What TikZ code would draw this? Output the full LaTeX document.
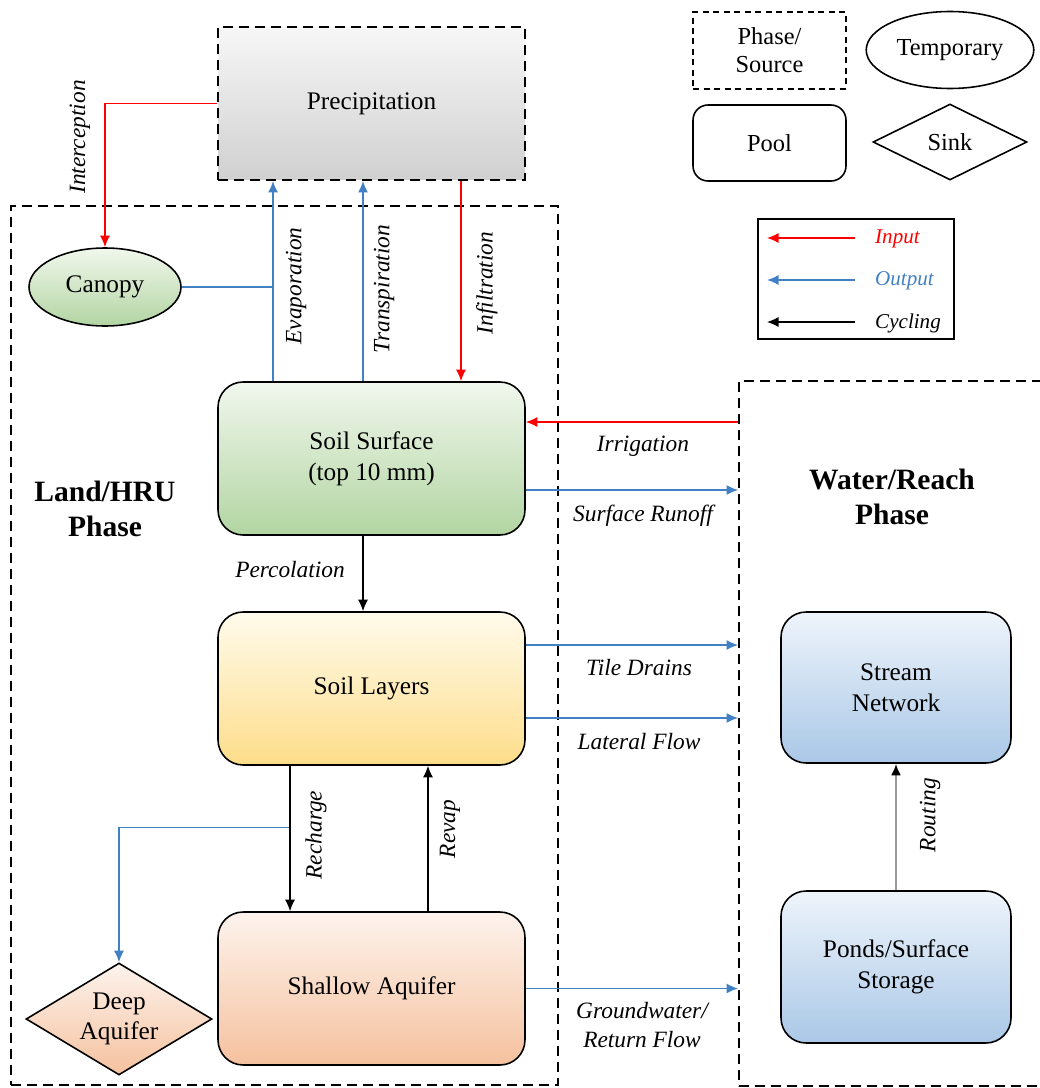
\documentclass[tikz,border=0pt]{standalone}
\usepackage{fontspec}
\setmainfont{Liberation Serif}
\usetikzlibrary{arrows.meta,positioning,shapes.geometric,calc}
\definecolor{inred}{RGB}{255,0,0}
\definecolor{outblue}{RGB}{66,128,196}
\definecolor{graytop}{RGB}{247,247,247}
\definecolor{graybot}{RGB}{208,208,208}
\definecolor{greentop}{RGB}{241,247,237}
\definecolor{greenbot}{RGB}{178,213,162}
\definecolor{yellowtop}{RGB}{255,251,236}
\definecolor{yellowbot}{RGB}{253,221,138}
\definecolor{peachtop}{RGB}{253,243,237}
\definecolor{peachbot}{RGB}{245,193,158}
\definecolor{bluetop}{RGB}{238,244,251}
\definecolor{bluebot}{RGB}{170,200,231}

\begin{document}
\begin{tikzpicture}[
    x=0.02cm, y=-0.02cm,
    >={Latex[length=2.3mm,width=2mm]},
    boxfont/.style={font=\fontsize{14.4}{17.5}\selectfont},
    phasebox/.style={draw,dash pattern=on 2mm off 1.2mm,line width=1.1pt},
    pool/.style={draw,line width=0.9pt,rounded corners=5mm,align=center,minimum width=6.14cm,minimum height=3.06cm,boxfont},
    temporary/.style={ellipse,draw,line width=0.9pt,align=center,boxfont},
    sink/.style={diamond,draw,line width=0.9pt,align=center,inner sep=0pt,shape aspect=1.66,boxfont},
    lbl/.style={font=\itshape\fontsize{13.3}{17}\selectfont,align=center},
    title/.style={font=\bfseries\fontsize{16.8}{20}\selectfont,align=center},
    inflow/.style={draw=inred,line width=0.8pt},
    outflow/.style={draw=outblue,line width=0.8pt},
    cycling/.style={draw=black,line width=0.7pt},
    routing/.style={draw=black!40,line width=1.3pt,-{Latex[length=2.3mm,width=2mm,color=black]}}
  ]
    \useasboundingbox (0,0) rectangle (1039,1088);

    % phases
    \node[phasebox, minimum width=10.94cm, minimum height=17.58cm] (land) at (284.5,645.5) {};
    \node[phasebox, minimum width=6.22cm, minimum height=14.1cm] (water) at (894.5,733.5) {};
    \node[phasebox, top color=graytop, bottom color=graybot, minimum width=6.14cm, minimum height=3.06cm, boxfont] (precip) at (371.5,103.5) {Precipitation};
    \node[title] (landlbl) at (105,509) {Land/HRU\\Phase};
    \node[title] (waterlbl) at (892,497) {Water/Reach\\Phase};

    % pools
    \node[temporary, top color=greentop, bottom color=greenbot, minimum width=3.04cm, minimum height=1.56cm] (canopy) at (105,287) {Canopy};
    \node[pool, top color=greentop, bottom color=greenbot] (surface) at (371.5,458.5) {Soil Surface\\(top 10 mm)};
    \node[pool, top color=yellowtop, bottom color=yellowbot] (layers) at (371.5,688.5) {Soil Layers};
    \node[pool, top color=peachtop, bottom color=peachbot] (shallow) at (371.5,988.5) {Shallow Aquifer};
    \node[sink, top color=peachtop, bottom color=peachbot, minimum width=3.72cm, minimum height=2.24cm] (deep) at (119,1019) {Deep\\Aquifer};
    \node[pool, top color=bluetop, bottom color=bluebot, minimum width=4.6cm, minimum height=3.02cm] (stream) at (896,687.5) {Stream\\Network};
    \node[pool, top color=bluetop, bottom color=bluebot, minimum width=4.6cm, minimum height=3.04cm] (ponds) at (896,967) {Ponds/Surface\\Storage};

    % helper points on the boxes
    \coordinate (evap)   at ([xshift=-1.97cm]surface.north);
    \coordinate (transp) at ([xshift=-0.17cm]surface.north);
    \coordinate (infil)  at ([xshift=1.79cm]precip.south);
    \coordinate (irrig)  at ([yshift=0.73cm]surface.east);
    \coordinate (runoff) at ([yshift=-0.63cm]surface.east);
    \coordinate (tile)   at ([yshift=0.87cm]layers.east);
    \coordinate (lateral) at ([yshift=-0.59cm]layers.east);
    \coordinate (rech)   at ([xshift=-1.63cm]layers.south);
    \coordinate (split)  at ([yshift=-1.24cm]rech);
    \coordinate (revap)  at ([xshift=1.13cm]shallow.north);

    % inputs
    \draw[inflow,->] (precip.west) -| (canopy.north);
    \draw[inflow,->] (infil) -- (infil |- surface.north);
    \draw[inflow,->] (irrig -| water.west) -- (irrig);

    % outputs
    \draw[outflow,->] (evap) -- (evap |- precip.south);
    \draw[outflow,->] (transp) -- (transp |- precip.south);
    \draw[outflow] (canopy.east) -- (canopy.east -| evap);
    \draw[outflow,->] (runoff) -- (runoff -| water.west);
    \draw[outflow,->] (tile) -- (tile -| water.west);
    \draw[outflow,->] (lateral) -- (lateral -| water.west);
    \draw[outflow,->] (shallow.east) -- (shallow.east -| water.west);
    \draw[outflow,->] (split) -| (deep.north);

    % cycling
    \draw[cycling,->] (transp |- surface.south) -- (transp |- layers.north);
    \draw[cycling,->] (rech) -- (rech |- shallow.north);
    \draw[cycling,->] (revap) -- (revap |- layers.south);
    \draw[routing] (ponds) -- (stream);

    % flow labels
    \node[lbl, rotate=90] (intlbl) at (80,137) {Interception};
    \node[lbl, rotate=90] (evaplbl) at (296,286) {Evaporation};
    \node[lbl, rotate=90] (translbl) at (384,289) {Transpiration};
    \node[lbl, rotate=90] (infillbl) at (487,283) {Infiltration};
    \node[lbl] (perclbl) at (290,570) {Percolation};
    \node[lbl] (irrlbl) at (643,446) {Irrigation};
    \node[lbl] (runlbl) at (643,516) {Surface Runoff};
    \node[lbl] (tilelbl) at (639,668) {Tile Drains};
    \node[lbl] (latlbl) at (639,742) {Lateral Flow};
    \node[lbl] (gwlbl) at (642,1025) {Groundwater/\\Return Flow};
    \node[lbl, rotate=90] (rechlbl) at (316,835) {Recharge};
    \node[lbl, rotate=90] (revlbl) at (450,829) {Revap};
    \node[lbl, rotate=90] (routlbl) at (930,815) {Routing};

    % legend
    \node[draw, dash pattern=on 1.2mm off 0.9mm, line width=0.9pt, minimum width=3.06cm, minimum height=1.54cm, align=center, font=\fontsize{13.9}{16}\selectfont] (keyphase) at (769.5,50.5) {Phase/\\Source};
    \node[temporary, minimum width=3.06cm, minimum height=1.54cm, font=\fontsize{13.9}{16}\selectfont] (keytemp) at (950,50) {Temporary};
    \node[pool, rounded corners=3mm, minimum width=3.06cm, minimum height=1.52cm, font=\fontsize{13.9}{16}\selectfont] (keypool) at (769.5,143) {Pool};
    \node[sink, minimum width=3.08cm, minimum height=1.52cm, font=\fontsize{13.9}{16}\selectfont] (keysink) at (950,142) {Sink};
    \node[draw, line width=1.1pt, minimum width=3.92cm, minimum height=2.4cm] (keybox) at (856,279) {};
    \node[lbl, anchor=west, text=inred, font=\itshape\fontsize{12}{14}\selectfont] (keyin) at (869,239) {Input};
    \node[lbl, anchor=west, text=outblue, font=\itshape\fontsize{12}{14}\selectfont] (keyout) at (869,281) {Output};
    \node[lbl, anchor=west, font=\itshape\fontsize{12}{14}\selectfont] (keycyc) at (869,323) {Cycling};
    \coordinate (in1) at (855,238);  \coordinate (in0) at (767,238);
    \coordinate (out1) at (855,280); \coordinate (out0) at (767,280);
    \coordinate (cyc1) at (855,322); \coordinate (cyc0) at (767,322);
    \draw[inflow,->] (in1) -- (in0);
    \draw[outflow,->] (out1) -- (out0);
    \draw[cycling,->] (cyc1) -- (cyc0);
\end{tikzpicture}
\end{document}
